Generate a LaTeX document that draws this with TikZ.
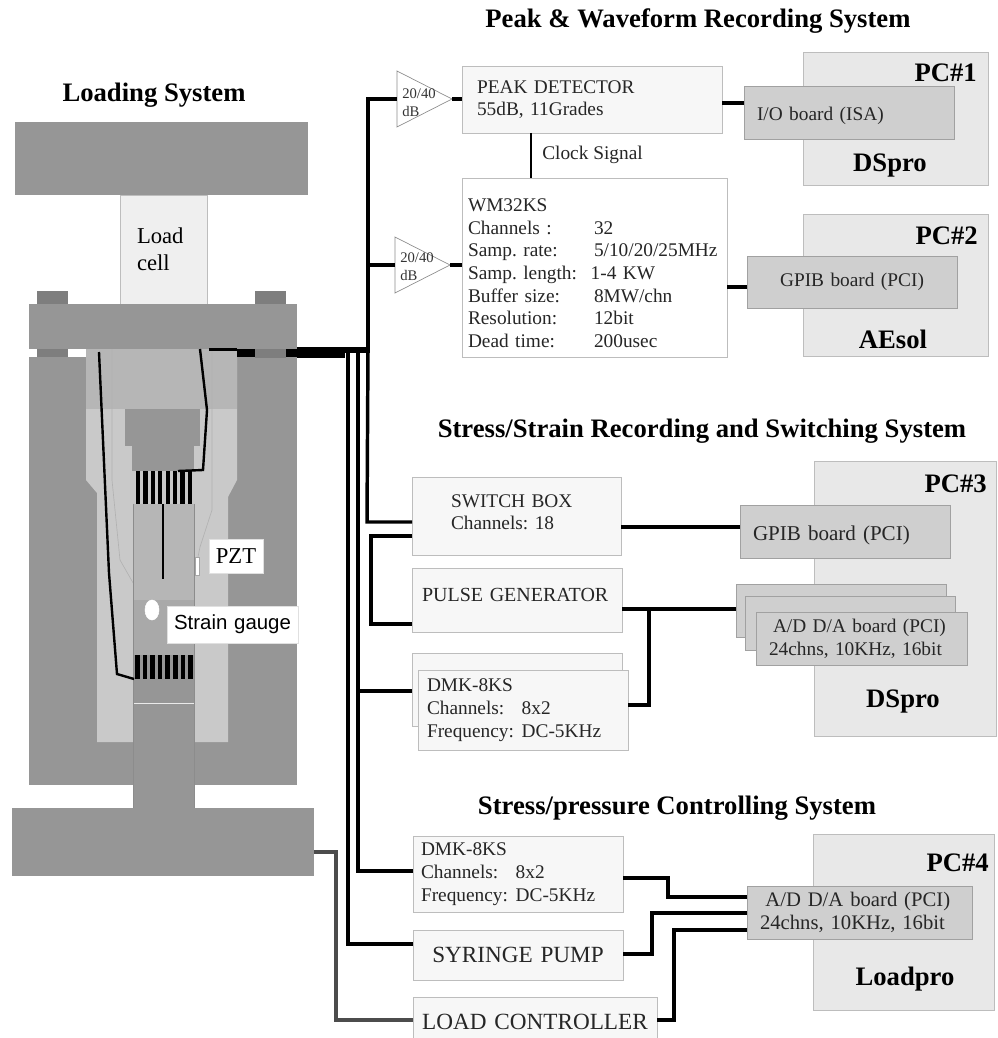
\documentclass[tikz,border=0pt]{standalone}
\usepackage{fontspec}
\setmainfont{Liberation Serif}
\newfontfamily\gaugefont{Liberation Sans}
\usetikzlibrary{shapes.geometric}
\definecolor{pressdark}{HTML}{969696}
\definecolor{boltgray}{HTML}{7E7E7E}
\definecolor{innerlight}{HTML}{C9C9C9}
\definecolor{innermid}{HTML}{B6B6B6}
\definecolor{edgegray}{HTML}{BDBDBD}
\definecolor{panelfill}{HTML}{F7F7F7}
\definecolor{pcfill}{HTML}{E8E8E8}
\definecolor{boardfill}{HTML}{CFCFCF}
\newcommand{\specrow}[3][94.5pt]{\makebox[#1][l]{#2}#3}
\frenchspacing
\tikzset{
  boxsize/.style n args={3}{
    anchor=north west, outer sep=0pt, inner ysep=0pt,
    minimum width=#1*0.75pt, minimum height=#2*0.75pt,
    inner xsep=#3*0.75pt, text width=(#1-2*#3)*0.75pt
  },
  panel/.style={
    rectangle, draw=edgegray, fill=panelfill, line width=0.7pt,
    font=\fontsize{14.5}{17}\selectfont, align=left, text=black!85
  },
  board/.style={
    rectangle, draw=edgegray!85!black, fill=boardfill, line width=0.7pt,
    font=\fontsize{14.5}{17}\selectfont, align=left, text=black!85
  },
  pcbox/.style={rectangle, draw=edgegray, fill=pcfill, line width=0.7pt},
  presspart/.style={rectangle, fill=#1, anchor=north west, outer sep=0pt, inner sep=0pt},
  presspart/.default=pressdark,
  amp/.style={
    isosceles triangle, isosceles triangle stretches, draw=black!45, fill=white,
    minimum height=55*0.75pt, minimum width=56*0.75pt,
    inner sep=0pt, outer sep=0pt, anchor=apex, line width=0.5pt
  },
  amplabel/.style={font=\fontsize{11}{13.5}\selectfont, align=left, anchor=west, inner sep=0pt, text=black!80},
  heading/.style={font=\fontsize{20}{24}\selectfont\bfseries, inner sep=0pt},
  pctext/.style={font=\fontsize{20}{24}\selectfont\bfseries, inner sep=0pt},
  tag/.style={rectangle, fill=white, draw=black!12, outer sep=0pt, inner sep=0pt, anchor=north west},
  wire/.style={line width=2.6pt, color=black, line join=miter},
  cable/.style={color=black, line width=#1},
  loadwire/.style={line width=2.6pt, color=black!70},
  thinline/.style={color=black!30, line width=0.5pt},
  gaugewire/.style={color=black, line width=1.8pt},
}
\begin{document}
\begin{tikzpicture}[x=0.75pt, y=-0.75pt]
  \useasboundingbox (0,0) rectangle (997,1038);
  % titles
  \node[heading] (titlepeak) at (698,21) {Peak \& Waveform Recording System};
  \node[heading] (titleload) at (154,95) {Loading System};
  \node[heading] (titlestress) at (702,431) {Stress/Strain Recording and Switching System};
  \node[heading] (titlepressure) at (677,808) {Stress/pressure Controlling System};

  % loading frame
  \node[presspart, boxsize={293}{73}{0}] (crosshead) at (15,122) {};
  \node[presspart=pcfill!70!white, draw=edgegray, boxsize={87}{109}{17}, align=left, font=\fontsize{17}{20}\selectfont] (loadcell) at (120,195) {Load\\cell};
  \node[presspart=boltgray, boxsize={31}{14}{0}] (boltA) at (37,291) {};
  \node[presspart=boltgray, boxsize={31}{14}{0}] (boltB) at (255,291) {};
  \node[presspart, boxsize={268}{45}{0}] (topplate) at (29,304) {};
  \node[presspart=boltgray, boxsize={31}{9}{0}] (boltC) at (37,349) {};
  \node[presspart, boxsize={268}{428}{0}] (vessel) at (29,357) {};
  \fill[innerlight] (86,349) -- (237,349) -- (237,480) -- (228,497) -- (228,742) -- (97,742) -- (97,493) -- (86,480) -- cycle;
  \node[presspart=innermid, boxsize={151}{60}{0}] (upperseat) at (86,349) {};
  \draw[thinline] (112,349) -- (112,480) -- (120,560) -- (144,602);
  \draw[thinline] (212,349) -- (212,510) -- (200,547) -- (197,562);
  \node[presspart, boxsize={75}{37}{0}] (spacerA) at (125,409) {};
  \node[presspart, boxsize={62}{25}{0}] (spacerB) at (132,446) {};
  \node[presspart=innermid, boxsize={61}{96}{0}] (sample) at (133,504) {};
  \node[presspart=pressdark!40!innermid, boxsize={61}{55}{0}] (samplemid) at (133,600) {};
  \node[presspart, boxsize={61}{48}{0}] (samplelow) at (133,655) {};
  \node[presspart, boxsize={61}{105}{0}] (piston) at (133,703) {};
  \draw[white!80!pressdark, line width=0.5pt] (piston.north west) -- (piston.north east);
  \draw[black!45, line width=0.4pt] (sample.north west) -- (piston.south west);
  \draw[black!45, line width=0.4pt] (sample.north east) -- (piston.south east);
  \node[presspart, boxsize={302}{68}{0}] (baseplate) at (12,808) {};
  \node[draw=white, fill=white, ellipse, minimum width=14*0.75pt, minimum height=20*0.75pt, inner sep=0pt] (gaugedot) at (152,610) {};
  \node[rectangle, fill=white, draw=black!35, line width=0.3pt, anchor=north west, minimum width=4*0.75pt, minimum height=18*0.75pt, inner sep=0pt] (pztdot) at (195,557) {};

  % strain coils
  \foreach \i in {0,...,7} {
    \fill[black] (136+\i*7.4,471) rectangle ++(4.2,33);
    \fill[black] (135+\i*7.6,655) rectangle ++(4.6,24);
  }
  \draw[gaugewire] (99,352) -- (109,573) -- (117,674) -- (134,679);
  \draw[gaugewire] (200,349) -- (207,410) -- (203,470) -- (178,471);
  \draw[gaugewire] (163,504) -- (163,579);

  % cable out of the vessel
  \draw[cable=1.6pt] (209,349.5) -- (237,349.5);
  \draw[cable=6pt] (237,353) -- (255,353);
  \node[presspart=boltgray, boxsize={31}{9}{0}] (boltD) at (255,349) {};
  \draw[cable=6pt] (286,353) -- (297,353);
  \draw[cable=8pt] (297,352.5) -- (345,352.5);
  \draw[cable=5pt] (345,350) -- (369.5,350);

  % bus lines
  \coordinate (busR) at (368,349);
  \coordinate (busM) at (358,352);
  \coordinate (busL) at (348,352);
  \coordinate (busLoad) at (336,852);

  % peak + waveform boxes
  \node[pcbox, boxsize={185}{133}{0}] (pcA) at (803,52) {};
  \node[pcbox, boxsize={185}{142}{0}] (pcB) at (803,214) {};
  \node[pcbox, boxsize={182}{275}{0}] (pcC) at (814,461) {};
  \node[pcbox, boxsize={181}{176}{0}] (pcD) at (813,834) {};
  \node[pctext, anchor=east] (pcAname) at (977,73) {PC\#1};
  \node[pctext, anchor=east] (pcBname) at (978,236) {PC\#2};
  \node[pctext, anchor=east] (pcCname) at (987,484) {PC\#3};
  \node[pctext, anchor=east] (pcDname) at (989,863) {PC\#4};
  \node[pctext] (softA) at (890,166) {DSpro};
  \node[pctext] (softB) at (893,339) {AEsol};
  \node[pctext] (softC) at (903,702) {DSpro};
  \node[pctext] (softD) at (905,979) {Loadpro};

  \node[panel, boxsize={260}{67}{15}] (peak) at (462,66) {PEAK DETECTOR\\55dB, 11Grades};
  \node[panel, fill=white, boxsize={265}{179}{6}] (wm) at (462,178) {\rule{0pt}{18pt}WM32KS\\
    \specrow{Channels :}{32}\\
    \specrow{Samp. rate:}{5/10/20/25MHz}\\
    \specrow[92pt]{Samp. length:}{1-4 KW}\\
    \specrow{Buffer size:}{8MW/chn}\\
    \specrow{Resolution:}{12bit}\\
    \specrow{Dead time:}{200usec}};
  \node[board, boxsize={210}{53}{13}] (ioboard) at (744,86) {\rule{0pt}{15pt}I/O board (ISA)};
  \node[board, boxsize={210}{52}{0}, align=center] (gpibA) at (747,256) {GPIB board (PCI)};
  \node[amp] (ampA) at (452,99) {};
  \node[amp] (ampB) at (450,265) {};
  \node[amplabel] (ampAtext) at (402,103) {20/40\\dB};
  \node[amplabel] (ampBtext) at (400,267) {20/40\\dB};

  \coordinate (peakout) at (722,103);
  \coordinate (clocktop) at (531,133);
  \coordinate (wmout) at (727,287);
  \draw[wire] (busR) -- (busR |- ampA.west) -- (ampA.west);
  \draw[wire] (busR |- ampB.west) -- (ampB.west);
  \draw[wire] (ampA.apex) -- (peak.west |- ampA.apex);
  \draw[wire] (ampB.apex) -- (wm.west |- ampB.apex);
  \draw[wire] (peakout) -- (peakout -| ioboard.west);
  \draw[wire, line width=2pt] (clocktop) -- (clocktop |- wm.north);
  \draw[wire] (wmout) -- (wmout -| gpibA.west);
  \node[anchor=west, inner sep=0pt, font=\fontsize{14.5}{17}\selectfont, text=black!85] (clocktext) at (542,155) {Clock Signal};

  % stress/strain
  \node[panel, boxsize={209}{78}{39}] (switchbox) at (412,477) {SWITCH BOX\\Channels: 18\rule[-6pt]{0pt}{0pt}};
  \node[panel, boxsize={210}{64}{10}, font=\fontsize{15}{17}\selectfont] (pulse) at (412,568) {PULSE GENERATOR\rule[-7pt]{0pt}{0pt}};
  \node[panel, boxsize={210}{73}{9}] (dmkback) at (412,653) {};
  \node[panel, boxsize={210}{80}{9}] (dmk) at (418,670) {DMK-8KS\\
    \specrow[71pt]{Channels:}{8x2}\\
    \specrow[71pt]{Frequency:}{DC-5KHz}};
  \node[board, boxsize={210}{53}{13}, font=\fontsize{15.8}{17}\selectfont] (gpibB) at (740,505) {\rule{0pt}{17pt}GPIB board (PCI)};
  \node[board, boxsize={210}{53}{0}] (adA) at (736,584) {};
  \node[board, boxsize={210}{54}{0}] (adB) at (745,596) {};
  \node[board, boxsize={211}{53}{13}] (adC) at (756,612) {\hspace*{3pt}A/D D/A board (PCI)\\24chns, 10KHz, 16bit};

  \coordinate (switchin) at (367,522);
  \coordinate (switchout) at (621,527);
  \coordinate (looptop) at (371,536);
  \coordinate (loopend) at (371,624);
  \coordinate (pulseout) at (622,609);
  \coordinate (dmkin) at (358,691);
  \coordinate (dmkout) at (628,705);
  \coordinate (dmkjoin) at (649,609);
  \draw[wire] (busR) -- (switchin) -- (switchin -| switchbox.west);
  \draw[wire] (switchout) -- (switchout -| gpibB.west);
  \draw[wire] (looptop -| switchbox.west) -- (looptop) -- (loopend) -- (loopend -| pulse.west);
  \draw[wire] (pulseout) -- (pulseout -| adA.west);
  \draw[wire] (dmkin) -- (dmkin -| dmkback.west);
  \draw[wire] (dmkout) -| (dmkjoin);

  % stress/pressure
  \node[panel, boxsize={210}{76}{8}] (dmktwo) at (413,836) {DMK-8KS\\
    \specrow[71pt]{Channels:}{8x2}\\
    \specrow[71pt]{Frequency:}{DC-5KHz}};
  \node[panel, boxsize={210}{50}{0}, align=center, font=\fontsize{17.4}{17}\selectfont] (syringe) at (413,930) {SYRINGE PUMP};
  \node[panel, boxsize={244}{50}{0}, align=center, font=\fontsize{17.4}{17}\selectfont] (loadctrl) at (413,997) {LOAD CONTROLLER};
  \node[board, boxsize={225}{53}{13}, font=\fontsize{15.5}{17}\selectfont] (adD) at (747,886) {\hspace*{4pt}A/D D/A board (PCI)\\24chns, 10KHz, 16bit};

  \coordinate (syringein) at (348,944);
  \coordinate (dmktwoin) at (358,871);
  \coordinate (dmktwoout) at (623,878);
  \coordinate (dmktwobend) at (668,897);
  \coordinate (syringeout) at (623,954);
  \coordinate (syringebend) at (652,913);
  \coordinate (ctrlin) at (336,1020);
  \coordinate (ctrlout) at (657,1020);
  \coordinate (ctrlbend) at (674,930);
  \draw[wire] (busL) -- (syringein) -- (syringein -| syringe.west);
  \draw[wire] (busM) -- (dmktwoin) -- (dmktwoin -| dmktwo.west);
  \draw[wire] (dmktwoout) -| (dmktwobend) -- (dmktwobend -| adD.west);
  \draw[wire] (syringeout) -| (syringebend) -- (syringebend -| adD.west);
  \draw[wire] (ctrlout) -| (ctrlbend) -- (ctrlbend -| adD.west);
  \draw[loadwire] (busLoad -| baseplate.east) -- (busLoad) -- (ctrlin) -- (ctrlin -| loadctrl.west);

  % labels on the press
  \node[tag, boxsize={54}{34}{0}, align=center, font=\fontsize{17}{17}\selectfont] (pzttag) at (209,539) {PZT};
  \node[tag, boxsize={131}{37}{0}, align=center, font=\fontsize{15.3}{17}\gaugefont] (gaugetag) at (167,606) {Strain gauge};
\end{tikzpicture}
\end{document}
